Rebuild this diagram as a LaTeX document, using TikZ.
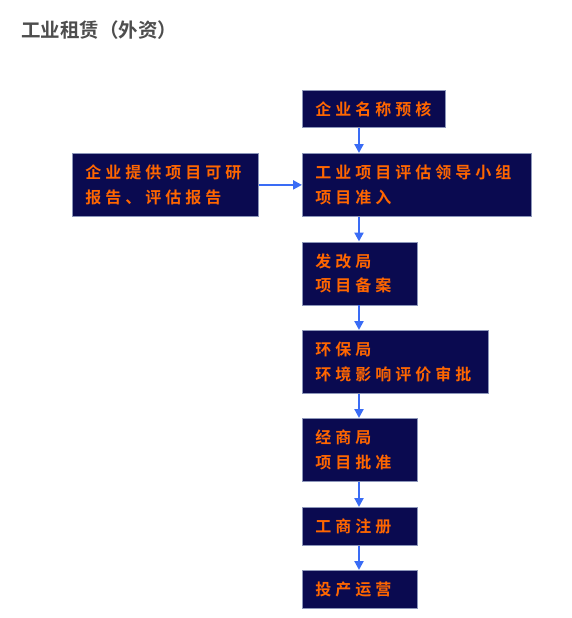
\documentclass[tikz,border=0pt]{standalone}
\usepackage{fontspec}
\newfontfamily\cjk[LetterSpace=25]{Noto Sans CJK SC Bold}
\newfontfamily\cjktitle{Noto Sans CJK SC Bold}
\usetikzlibrary{arrows.meta}
\definecolor{boxfill}{RGB}{10,10,80}
\definecolor{boxline}{RGB}{140,150,185}
\definecolor{txtorange}{RGB}{255,102,0}
\definecolor{arrblue}{RGB}{58,108,245}
\definecolor{titlegray}{RGB}{77,77,77}
\tikzset{
  stepbox/.style={draw=boxline, line width=0.8pt, fill=boxfill, anchor=north west,
    inner xsep=13pt, inner ysep=0pt, align=left, text=txtorange,
    font=\cjk\fontsize{16}{24.5}\selectfont},
  arr/.style={draw=arrblue, line width=2.2pt, -{Triangle[length=9pt,width=9pt]}}
}
\begin{document}
\begin{tikzpicture}[x=1pt,y=-1pt]
\useasboundingbox (0,0) rectangle (571,618);
\node[anchor=west, text=titlegray, font=\cjktitle\fontsize{19.5}{22}\selectfont, inner sep=0pt] (title) at (21,30) {工业租赁（外资）};
\node[stepbox, minimum width=143pt, minimum height=37pt, text width=117pt] (b1) at (302,90) {企业名称预核};
\node[stepbox, minimum width=186pt, minimum height=63pt, text width=160pt] (b2) at (72,153) {企业提供项目可研\\报告、评估报告};
\node[stepbox, minimum width=229pt, minimum height=63pt, text width=203pt] (b3) at (302,153) {工业项目评估领导小组\\项目准入};
\node[stepbox, minimum width=115pt, minimum height=63pt, text width=89pt] (b4) at (302,241.5) {发改局\\项目备案};
\node[stepbox, minimum width=186pt, minimum height=63pt, text width=160pt] (b5) at (302,330) {环保局\\环境影响评价审批};
\node[stepbox, minimum width=115pt, minimum height=63pt, text width=89pt] (b6) at (302,418) {经商局\\项目批准};
\node[stepbox, minimum width=115pt, minimum height=38pt, text width=89pt] (b7) at (302,507) {工商注册};
\node[stepbox, minimum width=115pt, minimum height=38pt, text width=89pt] (b8) at (302,570) {投产运营};
\coordinate (ax) at (359,0);
\draw[arr] (ax |- b1.south) -- (ax |- b3.north);
\draw[arr] (b2.east) -- (b3.west);
\draw[arr] (ax |- b3.south) -- (ax |- b4.north);
\draw[arr] (ax |- b4.south) -- (ax |- b5.north);
\draw[arr] (ax |- b5.south) -- (ax |- b6.north);
\draw[arr] (ax |- b6.south) -- (ax |- b7.north);
\draw[arr] (ax |- b7.south) -- (ax |- b8.north);
\end{tikzpicture}
\end{document}
